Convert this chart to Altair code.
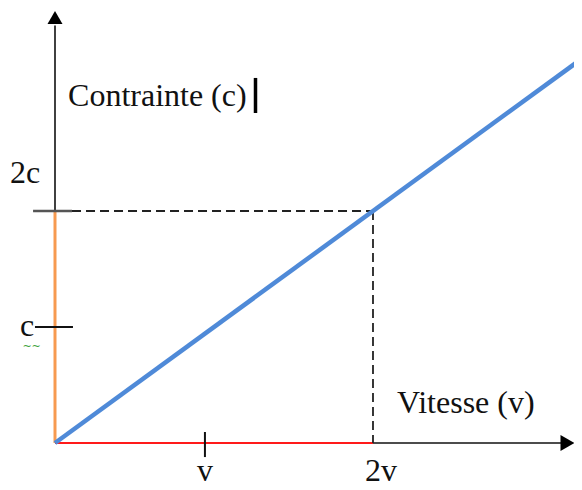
import altair as alt
import pandas as pd

# ---- data (data units: v = 1 on x, c = 1 on y) ----
speed = [0.0, 3.30]          # blue line, Vitesse
stress = [0.0, 3.30]         # blue line, Contrainte
x_tick_values = [0.943, 2.0]
x_tick_labels = ["v", "2v"]
y_tick_values = [1.0, 2.0]
y_tick_labels = ["c", "2c"]
x_title = "Vitesse (v)"
y_title = "Contrainte (c)"

XD = [-0.2956, 3.2642]
YD = [-0.336, 3.75]
xs = alt.Scale(domain=XD, nice=False, zero=False)
ys = alt.Scale(domain=YD, nice=False, zero=False)
FONT = "Liberation Serif"
FS = 32


def enc_xy(ch, with2=False):
    e = dict(x=alt.X("x:Q", scale=xs, axis=None), y=alt.Y("y:Q", scale=ys, axis=None))
    if with2:
        e["x2"] = alt.X2("x2:Q")
        e["y2"] = alt.Y2("y2:Q")
    return ch.encode(**e)


def seg(x, x2, y, y2, color, width, dash=None):
    df = pd.DataFrame({"x": [x], "x2": [x2], "y": [y], "y2": [y2]})
    kw = dict(color=color, strokeWidth=width, strokeCap="butt")
    if dash:
        kw["strokeDash"] = dash
    return enc_xy(alt.Chart(df).mark_rule(**kw), True)


def label(text, x, y, align, size=FS, color="#111", font=FONT):
    df = pd.DataFrame({"x": [x], "y": [y], "t": [text]})
    ch = alt.Chart(df).mark_text(align=align, baseline="alphabetic", fontSize=size,
                                 font=font, color=color)
    return enc_xy(ch).encode(text="t:N")


def arrow(x, y, shape, size):
    df = pd.DataFrame({"x": [x], "y": [y]})
    return enc_xy(alt.Chart(df).mark_point(shape=shape, size=size, filled=True,
                                           color="black", opacity=1, strokeWidth=0))


layers = []
# coloured axis parts
layers.append(seg(0, 0, 0, y_tick_values[1], "#f79a50", 3))
layers.append(seg(0, x_tick_values[1], 0, 0, "#ff1a1a", 1.8))
# black axis parts
layers.append(seg(0, 0, y_tick_values[1], 3.60, "#111", 1.6))
layers.append(seg(x_tick_values[1], 3.19, 0, 0, "#111", 1.6))
layers.append(arrow(0, 3.668, "triangle-up", 225))
layers.append(arrow(3.223, 0, "triangle-right", 256))
# dashed guides
layers.append(seg(0.107, x_tick_values[1], y_tick_values[1], y_tick_values[1], "#222", 1.8, [9, 5]))
layers.append(seg(x_tick_values[1], x_tick_values[1], y_tick_values[1], 0, "#222", 1.8, [9, 5]))
# ticks
layers.append(seg(-0.138, 0.107, y_tick_values[1], y_tick_values[1], "#555", 2.5))
layers.append(seg(-0.126, 0.113, y_tick_values[0], y_tick_values[0], "#111", 2))
layers.append(seg(x_tick_values[0], x_tick_values[0], 0.095, -0.121, "#111", 2))
# cursor bar after the y title
layers.append(seg(1.261, 1.261, 3.147, 2.845, "#000", 3.5))

# blue line
blue = alt.Chart(pd.DataFrame({"x": speed, "y": stress})).mark_line(
    color="#4f8ad8", strokeWidth=4.5, strokeCap="butt", clip=True)
layers.append(enc_xy(blue))

# labels
layers.append(label(y_tick_labels[1], -0.283, 2.241, "left"))
layers.append(label(y_tick_labels[0], -0.220, 0.922, "left"))
layers.append(label("~~", -0.205, 0.80, "left", size=11, color="#3aa33a", font="DejaVu Sans"))
layers.append(label(x_tick_labels[0], x_tick_values[0], -0.328, "center"))
layers.append(label(x_tick_labels[1], 2.05, -0.328, "center"))
layers.append(label(y_title, 0.082, 2.905, "left"))
layers.append(label(x_title, 2.151, 0.259, "left"))

chart = alt.layer(*layers).properties(
    width=566, height=474, padding=0, autosize="none", background="white"
).configure_view(stroke=None)

chart.save("out.html", embed_options={"renderer": "svg", "actions": False})
